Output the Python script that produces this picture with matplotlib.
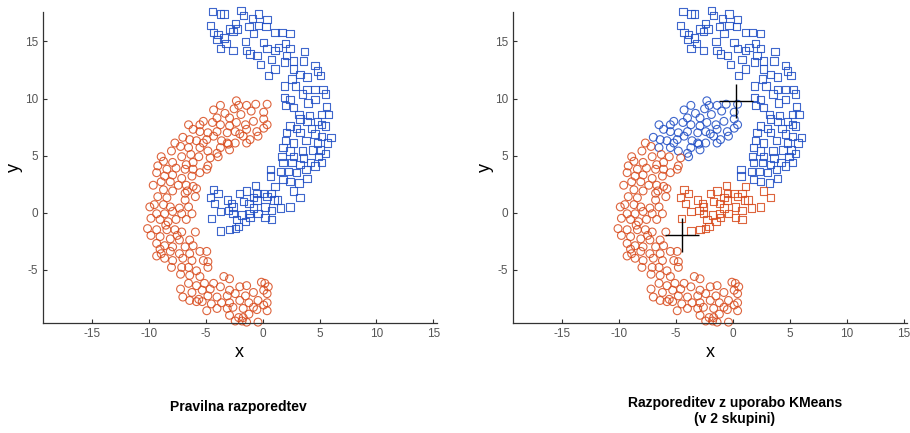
import numpy as np
import matplotlib
matplotlib.use("Agg")
import matplotlib.pyplot as plt

plt.rcParams['font.family'] = ['Liberation Sans', 'DejaVu Sans']
plt.rcParams['axes.unicode_minus'] = False

# lower-left crescent (true class 1)
moon_red = np.array([
    (-2.3, 9.8), (-2.1, 9.4), (-3.7, 9.4), (-4.3, 9.0), (-1.4, 9.4), (-0.6, 9.5), (0.4, 9.5),
    (-2.9, 8.3), (-1.9, 8.6), (-4.0, 8.3), (-5.2, 8.0), (-5.5, 7.7), (-4.4, 7.9), (-3.7, 7.7),
    (-2.9, 7.6), (-2.3, 7.9), (-1.5, 7.7), (-0.8, 8.0), (0.1, 8.2), (0.4, 7.7), (-1.4, 7.3),
    (-0.5, 7.1), (0.1, 7.4), (-6.5, 7.7), (-6.1, 7.3), (-5.5, 7.1), (-4.8, 7.0), (-4.0, 7.1),
    (-3.1, 7.0), (-2.4, 7.1), (-2.0, 6.9), (-0.4, 6.7), (-1.1, 6.4), (-1.4, 6.1), (-2.4, 6.1),
    (-3.6, 6.3), (-4.3, 6.7), (-7.0, 6.6), (-6.4, 6.4), (-5.8, 6.3), (-5.2, 6.1), (-4.9, 6.4),
    (-3.1, 6.1), (-3.7, 5.7), (-2.9, 5.5), (-3.0, 6.0), (-7.7, 6.1), (-7.2, 5.8), (-6.5, 5.7),
    (-5.5, 5.7), (-4.8, 5.4), (-4.0, 5.2), (-3.9, 4.9), (-6.3, 5.1), (-5.6, 4.9), (-4.6, 4.8),
    (-8.0, 5.4), (-7.1, 4.9), (-8.9, 4.9), (-8.7, 4.5), (-7.9, 4.4), (-6.7, 4.2), (-6.1, 4.4),
    (-4.8, 4.1), (-4.9, 3.8), (0.1, 8.8), (-1.0, 8.9), (-2.5, 9.1), (-3.3, 8.7), (-1.7, 6.7),
    (-9.2, 4.1), (-8.4, 3.8), (-7.6, 3.9), (-6.8, 3.8), (-6.1, 3.8), (-5.5, 3.5), (-9.3, 3.5),
    (-8.6, 3.2), (-7.9, 3.3), (-7.1, 3.0), (-6.2, 3.2), (-8.9, 2.7), (-8.1, 2.7), (-7.4, 2.4),
    (-6.7, 2.4), (-6.1, 2.3), (-9.6, 2.4), (-8.7, 2.0), (-7.9, 1.9), (-6.8, 1.7), (-5.8, 2.1),
    (-9.2, 1.4), (-8.4, 1.3), (-6.8, 1.1), (-5.9, 1.4), (-9.9, 0.5), (-9.5, 0.7), (-8.7, 0.7),
    (-8.1, 0.5), (-7.3, 0.4), (-6.5, 0.5), (-9.3, -0.1), (-8.6, -0.1), (-7.9, 0.1), (-7.1, -0.1),
    (-6.2, -0.1), (-9.8, -0.5), (-9.0, -0.6), (-8.3, -0.8), (-7.6, -0.6), (-6.7, -0.6),
    (-10.1, -1.4), (-9.3, -1.5), (-8.4, -1.5), (-7.7, -1.5), (-7.1, -1.7), (-5.9, -1.7),
    (-9.8, -2.0), (-9.0, -2.1), (-8.1, -2.3), (-7.3, -2.4), (-6.4, -2.4), (-9.3, -2.7),
    (-8.6, -2.9), (-7.9, -3.0), (-6.8, -3.0), (-6.1, -2.9), (-8.9, -3.6), (-8.1, -3.4),
    (-7.3, -3.6), (-6.4, -3.6), (-5.5, -3.4), (-4.9, -3.4), (-9.3, -3.8), (-8.6, -4.0),
    (-7.9, -4.2), (-7.0, -4.0), (-6.2, -4.2), (-5.2, -4.2), (-4.8, -4.3), (-8.0, -4.8),
    (-7.1, -4.8), (-6.5, -4.8), (-5.8, -5.1), (-4.8, -4.8), (-7.2, -5.4), (-6.4, -5.5),
    (-5.5, -5.6), (-8.5, -1.1), (-9.0, -3.2), (-7.5, -2.0), (-6.6, 1.9),
    (-6.5, -6.2), (-5.8, -6.4), (-5.1, -6.2), (-4.3, -6.2), (-3.4, -5.6), (-2.9, -5.8),
    (-7.2, -6.7), (-6.2, -7.0), (-5.3, -6.8), (-4.6, -6.7), (-3.7, -6.5), (-2.9, -6.8),
    (-2.0, -6.5), (-1.4, -6.4), (-0.1, -6.1), (0.2, -6.2), (0.5, -6.5), (-7.0, -7.4),
    (-6.4, -7.7), (-5.6, -7.6), (-4.8, -7.3), (-4.0, -7.4), (-3.1, -7.3), (-2.4, -7.1),
    (-1.5, -7.3), (-0.8, -7.0), (0.1, -6.8), (0.4, -7.1), (-5.8, -7.8), (-5.3, -7.8),
    (-4.5, -8.0), (-3.6, -7.9), (-2.9, -7.9), (-2.0, -7.7), (-1.2, -7.9), (-0.4, -7.7),
    (0.4, -7.9), (-4.9, -8.6), (-4.0, -8.4), (-3.1, -8.4), (-2.6, -8.3), (-1.7, -8.4),
    (-0.8, -8.3), (0.1, -8.1), (0.4, -8.6), (-2.9, -9.0), (-2.1, -9.2), (-1.7, -9.2),
    (-1.2, -8.9), (-2.4, -9.5), (-1.8, -9.5), (-1.4, -9.6), (-0.4, -9.6), (-0.5, -8.5),
])

# upper-right crescent (true class 2)
moon_blue = np.array([
    (-4.4, 17.6), (-3.7, 17.4), (-3.4, 17.4), (-1.9, 17.7), (-1.7, 17.3), (-0.35, 17.4),
    (0.4, 16.9), (0.3, 16.3), (-4.6, 16.4), (-4.3, 15.8), (-3.9, 15.6), (-2.9, 16.1),
    (-2.6, 15.9), (-2.2, 16.1), (-1.2, 16.3), (-0.8, 15.7), (-0.35, 16.4), (-4.0, 15.2),
    (-3.4, 15.3), (-3.7, 14.4), (-2.6, 14.2), (-1.4, 14.2), (-1.1, 13.9), (-0.5, 13.8),
    (-0.2, 13.0), (0.1, 14.9), (0.4, 14.4), (1.1, 15.8), (1.7, 15.8), (2.4, 15.7), (2.0, 14.8),
    (2.4, 14.4), (2.1, 13.8), (2.7, 13.3), (3.7, 14.1), (3.6, 13.3), (1.4, 14.5), (1.1, 14.2),
    (1.9, 13.2), (0.5, 12.0), (1.1, 12.6), (2.7, 12.6), (4.6, 12.9), (4.8, 12.4), (3.3, 12.1),
    (3.9, 11.9), (5.1, 12.0), (2.6, 11.7), (1.9, 11.1), (2.9, 11.1), (3.9, 10.8), (4.6, 10.8),
    (5.3, 10.8), (1.9, 10.1), (2.4, 9.9), (3.5, 10.4), (4.6, 9.9), (5.5, 10.4), (2.0, 9.4),
    (2.7, 9.2), (-2.4, 16.6), (-1.5, 15.0), (-3.2, 14.8), (0.8, 13.4), (-0.9, 17.0),
    (3.2, 8.6), (4.1, 8.5), (5.2, 8.6), (5.8, 8.6), (3.3, 8.2), (3.9, 8.0), (4.8, 8.0),
    (5.2, 7.7), (2.4, 7.6), (3.0, 7.4), (4.3, 7.4), (5.5, 7.6), (2.1, 7.0), (3.3, 7.0),
    (4.6, 6.9), (5.2, 6.7), (6.0, 6.6), (2.0, 6.3), (2.7, 6.1), (3.8, 6.3), (4.8, 6.1),
    (5.7, 6.1), (1.8, 5.7), (2.4, 5.4), (3.5, 5.4), (4.4, 5.5), (5.1, 5.5), (5.5, 5.2),
    (1.7, 4.9), (2.7, 4.9), (3.6, 4.8), (4.9, 4.9), (1.8, 4.4), (2.6, 4.4), (3.3, 4.2),
    (4.2, 4.4), (5.2, 4.4), (0.7, 3.8), (1.6, 3.6), (2.3, 3.6), (3.0, 3.5), (3.8, 3.8),
    (4.6, 4.1), (0.7, 3.2), (1.8, 2.9), (2.4, 2.7), (3.2, 2.6), (3.9, 3.0), (2.7, 1.9),
    (3.3, 1.3), (2.4, 0.5), (1.1, 2.3), (5.6, 9.3), (4.0, 9.6),
    (-4.3, 2.0), (-3.9, 1.7), (-4.6, 1.3), (-4.2, 0.8), (-3.7, 0.1), (-4.5, -0.5),
    (-3.7, -1.6), (-2.9, -1.5), (-2.4, -1.4), (-2.1, -1.2), (-3.1, 1.1), (-2.7, 0.8),
    (-2.0, 1.7), (-1.4, 1.9), (-0.6, 2.4), (-1.7, 1.0), (-1.2, 0.8), (-0.5, 1.7), (0.1, 1.7),
    (0.4, 1.4), (0.8, 1.7), (1.3, 1.1), (1.6, 0.4), (0.8, 0.2), (0.2, 0.5), (-0.4, -0.1),
    (-0.8, 0.4), (-1.2, -0.1), (-1.8, -0.2), (-2.6, -0.1), (-3.0, 0.2), (-2.3, -0.6),
    (-1.5, -0.8), (-1.1, -0.4), (0.2, -0.4), (0.8, -0.6), (-2.6, 0.5), (-0.5, 1.1),
    (1.0, 1.1), (-0.8, 1.3),
])

# cluster centres found by KMeans (k = 2)
km_centers = np.array([(0.25, 9.8), (-4.5, -2.0)])

c_red = '#d84a1c'
c_blue = '#1d4cc4'

titles = ["Pravilna razporedtev", "Razporeditev z uporabo KMeans\n(v 2 skupini)"]


def km_labels(pts):
    d = ((pts[:, None, :] - km_centers[None, :, :]) ** 2).sum(axis=2)
    return d.argmin(axis=1)


def style(ax):
    ax.set_xlim(-19.3, 15.3)
    ax.set_ylim(-9.65, 17.6)
    ax.set_xticks([-15, -10, -5, 0, 5, 10, 15])
    ax.set_yticks([-5, 0, 5, 10, 15])
    for s in ['top', 'right']:
        ax.spines[s].set_visible(False)
    for s in ['left', 'bottom']:
        ax.spines[s].set_color('#333333')
        ax.spines[s].set_linewidth(0.9)
    ax.tick_params(direction='in', length=3, width=0.8, labelsize=8.5,
                   labelcolor='#555555', color='#333333')
    ax.set_xlabel('x', fontsize=13, labelpad=3)
    ax.set_ylabel('y', fontsize=13, labelpad=1)


fig = plt.figure(figsize=(9.1, 4.33), dpi=100)
ax1 = fig.add_axes([0.0470, 0.2547, 0.433, 0.718])
ax2 = fig.add_axes([0.5640, 0.2547, 0.433, 0.718])

mk = dict(facecolors='none', linewidths=0.8, alpha=0.85, clip_on=False)

# true classes
ax1.scatter(moon_red[:, 0], moon_red[:, 1], s=32, marker='o', edgecolors=c_red, **mk)
ax1.scatter(moon_blue[:, 0], moon_blue[:, 1], s=28, marker='s', edgecolors=c_blue, **mk)

# KMeans result: colour = cluster, marker = true class
cols = np.array([c_blue, c_red])
ax2.scatter(moon_red[:, 0], moon_red[:, 1], s=32, marker='o',
            edgecolors=cols[km_labels(moon_red)], **mk)
ax2.scatter(moon_blue[:, 0], moon_blue[:, 1], s=28, marker='s',
            edgecolors=cols[km_labels(moon_blue)], **mk)
ax2.plot(km_centers[:, 0], km_centers[:, 1], '+', color='black', markersize=24, mew=1,
         linestyle='none')

style(ax1)
style(ax2)

fig.text(0.2615, 0.06, titles[0], ha='center', va='center', fontsize=10, fontweight='bold')
fig.text(0.8075, 0.051, titles[1], ha='center', va='center', fontsize=10, fontweight='bold',
         linespacing=1.2)

fig.savefig('out.png', dpi=100)
